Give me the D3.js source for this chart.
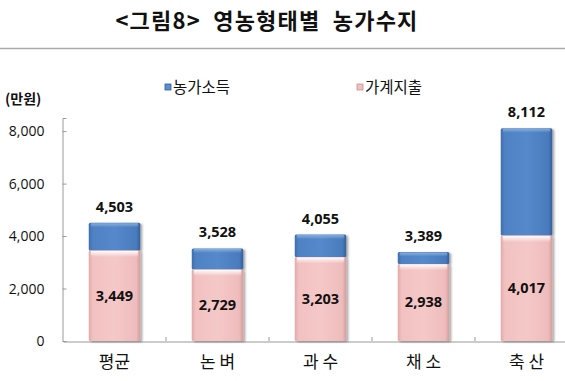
<!DOCTYPE html>
<html><head><meta charset="utf-8">
<script src="https://d3js.org/d3.v7.min.js"></script>
<style>body{margin:0;background:#fff}svg{display:block}</style>
</head><body>
<script>
const categories = ["평균", "논 벼", "과 수", "채 소", "축 산"];
const income = [4503, 3528, 4055, 3389, 8112];   // 농가소득
const expense = [3449, 2729, 3203, 2938, 4017];  // 가계지출
const yTicks = [0, 2000, 4000, 6000, 8000];
const seriesNames = ["농가소득", "가계지출"];

const W = 565, H = 381;
const svg = d3.select("body").append("svg").attr("width", W).attr("height", H);
const defs = svg.append("defs");

function hgrad(id, stops) {
  const g = defs.append("linearGradient").attr("id", id).attr("x1", "0").attr("x2", "1").attr("y1", "0").attr("y2", "0");
  stops.forEach(s => g.append("stop").attr("offset", s[0]).attr("stop-color", s[1]));
}
hgrad("gBlue", [[0, "#3d6ead"], [0.08, "#4f82c4"], [0.5, "#5489cb"], [0.92, "#4a7cbd"], [1, "#34609a"]]);
hgrad("gPink", [[0, "#e2a9a9"], [0.08, "#f2c1c1"], [0.5, "#f5c8c8"], [0.92, "#efbcbc"], [1, "#d49c9c"]]);
const vg = defs.append("linearGradient").attr("id", "gShine").attr("x1", "0").attr("x2", "0").attr("y1", "0").attr("y2", "1");
vg.append("stop").attr("offset", 0).attr("stop-color", "#fff").attr("stop-opacity", 0.95);
vg.append("stop").attr("offset", 1).attr("stop-color", "#fff").attr("stop-opacity", 0);
const vb = defs.append("linearGradient").attr("id", "gBlueTop").attr("x1", "0").attr("x2", "0").attr("y1", "0").attr("y2", "1");
vb.append("stop").attr("offset", 0).attr("stop-color", "#8fb3e0").attr("stop-opacity", 0.9);
vb.append("stop").attr("offset", 1).attr("stop-color", "#8fb3e0").attr("stop-opacity", 0);
const sh = defs.append("filter").attr("id", "shadow").attr("x", "-20%").attr("y", "-5%").attr("width", "140%").attr("height", "110%");
sh.append("feDropShadow").attr("dx", 2).attr("dy", 1).attr("stdDeviation", 1.2).attr("flood-color", "#000").attr("flood-opacity", 0.35);

// Title
svg.append("text").attr("x", 267).attr("y", 29).attr("text-anchor", "middle")
  .attr("font-family", "'Noto Sans CJK KR', sans-serif").attr("font-weight", "bold").attr("font-size", 22)
  .attr("letter-spacing", 1.2).attr("xml:space", "preserve").style("white-space", "pre")
  .attr("fill", "#111").text("<그림8>  영농형태별  농가수지");
svg.append("line").attr("x1", 0).attr("x2", W).attr("y1", 48.5).attr("y2", 48.5).attr("stroke", "#aaa").attr("stroke-width", 1.5);

const x = d3.scaleBand().domain(categories).range([63, 578]).paddingInner(0.5).paddingOuter(0.25);
const y = d3.scaleLinear().domain([0, 8500]).range([341, 118]);

// Axes
const yAxis = d3.axisLeft(y).tickValues(yTicks).tickSize(-4).tickPadding(18).tickFormat(d3.format(","));
const gy = svg.append("g").attr("transform", "translate(62.5,0)").call(yAxis);
gy.select(".domain").attr("stroke", "#999");
gy.selectAll(".tick line").attr("stroke", "#999");
gy.selectAll(".tick text").attr("font-family", "'Open Sans', sans-serif").attr("font-size", 14).attr("fill", "#111");

const xAxis = d3.axisBottom(x).tickSize(0).tickPadding(12);
const gx = svg.append("g").attr("transform", "translate(0,341.5)").call(xAxis);
gx.select(".domain").attr("stroke", "#999");
gx.selectAll(".tick text").attr("font-family", "'Noto Sans CJK KR', sans-serif").attr("font-size", 17).attr("fill", "#111").attr("dy", "0.85em");
// category separator ticks
const seps = categories.slice(1).map(c => x(c) - x.step() * x.paddingInner() / 2);
svg.append("g").selectAll("line").data(seps).join("line")
  .attr("x1", d => d).attr("x2", d => d).attr("y1", 337).attr("y2", 341)
  .attr("stroke", "#999");

// Bars
const bw = x.bandwidth();
const bars = svg.append("g").selectAll("g").data(categories).join("g").attr("filter", "url(#shadow)");
bars.append("rect").attr("x", d => x(d)).attr("width", bw)
  .attr("y", (d, i) => y(income[i])).attr("height", (d, i) => y(expense[i]) - y(income[i]))
  .attr("fill", "url(#gBlue)").attr("rx", 1.5);
bars.append("rect").attr("x", d => x(d)).attr("width", bw)
  .attr("y", (d, i) => y(expense[i])).attr("height", (d, i) => y(0) - y(expense[i]))
  .attr("fill", "url(#gPink)").attr("rx", 1.5);
// highlights
svg.append("g").selectAll("rect").data(categories).join("rect")
  .attr("x", d => x(d) + 2).attr("width", bw - 4)
  .attr("y", (d, i) => y(expense[i]) + 0.5).attr("height", 6)
  .attr("fill", "url(#gShine)");
svg.append("g").selectAll("rect").data(categories).join("rect")
  .attr("x", d => x(d) + 2).attr("width", bw - 4)
  .attr("y", (d, i) => y(income[i]) + 0.5).attr("height", 4)
  .attr("fill", "url(#gBlueTop)");

// Labels
const fmt = d3.format(",");
svg.append("g").selectAll("text").data(categories).join("text")
  .attr("x", d => x(d) + bw / 2).attr("y", (d, i) => y(income[i]) - 11)
  .attr("text-anchor", "middle").attr("font-family", "'Open Sans', sans-serif")
  .attr("font-weight", "bold").attr("font-size", 14.5).attr("fill", "#111")
  .text((d, i) => fmt(income[i]));
svg.append("g").selectAll("text").data(categories).join("text")
  .attr("x", d => x(d) + bw / 2).attr("y", (d, i) => (y(expense[i]) + y(0)) / 2 + 5)
  .attr("text-anchor", "middle").attr("font-family", "'Open Sans', sans-serif")
  .attr("font-weight", "bold").attr("font-size", 14.5).attr("fill", "#111")
  .text((d, i) => fmt(expense[i]));

// Unit
svg.append("text").attr("x", 5).attr("y", 104).attr("font-family", "'Noto Sans CJK KR', sans-serif")
  .attr("font-weight", "bold").attr("font-size", 14).attr("fill", "#111").text("(만원)");

// Legend
const legX = [165, 357];
const legCol = [["#5b8ed0", "#2f5d9a"], ["#eec0c0", "#c99090"]];
seriesNames.forEach((n, i) => {
  svg.append("rect").attr("x", legX[i]).attr("y", 84).attr("width", 6).attr("height", 6)
    .attr("fill", legCol[i][0]).attr("stroke", legCol[i][1]).attr("stroke-width", 0.8);
  svg.append("text").attr("x", legX[i] + 8).attr("y", 93).attr("font-family", "'Noto Sans CJK KR', sans-serif")
    .attr("font-size", 15.5).attr("fill", "#111").text(n);
});
</script>
</body></html>
